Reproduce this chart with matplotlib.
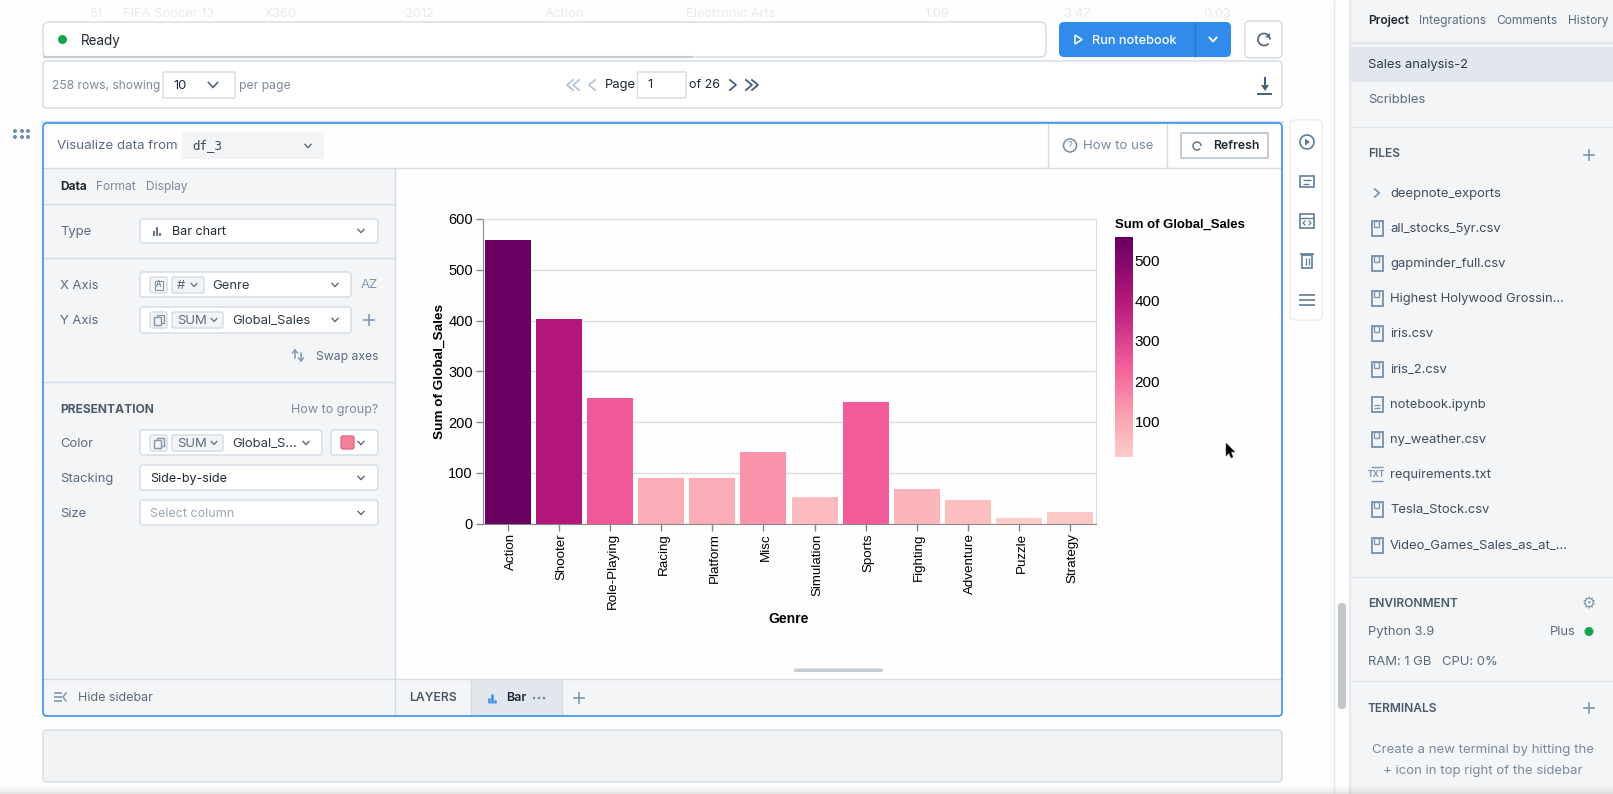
# plot.py
# Notebook screenshot with a sales bar chart: page parts are drawn in pixel coordinates,
# the chart itself is a normal matplotlib axes on top
import matplotlib
matplotlib.use("Agg")
import matplotlib.pyplot as plt
from matplotlib.colors import LinearSegmentedColormap, Normalize
from matplotlib.cm import ScalarMappable
from matplotlib.patches import FancyBboxPatch, Rectangle, Circle, Polygon, Arc
from matplotlib.transforms import ScaledTranslation

# chart values
genres = ["Action", "Shooter", "Role-Playing", "Racing", "Platform", "Misc",
          "Simulation", "Sports", "Fighting", "Adventure", "Puzzle", "Strategy"]
global_sales = [559, 404, 247, 90, 90, 141, 52, 239, 68, 46, 11, 23]
y_ticks = [0, 100, 200, 300, 400, 500, 600]
legend_ticks = [100, 200, 300, 400, 500]

# sidebar lists
file_names = ["all_stocks_5yr.csv", "gapminder_full.csv", "Highest Holywood Grossin...",
              "iris.csv", "iris_2.csv", "notebook.ipynb", "ny_weather.csv",
              "requirements.txt", "Tesla_Stock.csv", "Video_Games_Sales_as_at_..."]
ghost_row = ["51", "FIFA Soccer 13", "X360", "2012", "Action", "Electronic Arts", "1.09", "3.47", "0.03"]

W, H = 1613, 794
UI_FONT = "Inter"
CHART_FONT = "Liberation Sans"
LINE = "#d3dbe5"
DARK = "#1f2933"
MID = "#5b6b7d"
SOFT = "#7a8a9c"
ICON = "#7f97b2"
TOOL = "#5f7d9d"
PANEL = "#f3f5f7"
BLUE = "#3d8fe8"

fig = plt.figure(figsize=(W / 100, H / 100), dpi=100, facecolor="#fefefe")
ui = fig.add_axes([0, 0, 1, 1])
ui.set_xlim(0, W)
ui.set_ylim(H, 0)
ui.axis("off")


def box(x0, y0, x1, y1, fc="white", ec=LINE, r=3, lw=1.0, z=2):
    ui.add_patch(FancyBboxPatch((x0, y0), x1 - x0, y1 - y0, boxstyle=f"round,pad=0,rounding_size={r}",
                                fc=fc, ec=ec, lw=lw, zorder=z))


def rect(x0, y0, x1, y1, fc, z=1):
    ui.add_patch(Rectangle((x0, y0), x1 - x0, y1 - y0, fc=fc, ec="none", zorder=z))


def label(x, y, s, size=13, color=MID, weight="normal", ha="left", family=UI_FONT, z=5):
    # matplotlib centres a bit higher than the browser did
    ui.text(x, y + 1.3, s, fontsize=size * 0.72, color=color, fontweight=weight, ha=ha, va="center",
            family=family, zorder=z)


def hline(x0, x1, y, color=LINE, lw=1.0, z=3):
    ui.plot([x0, x1], [y, y], color=color, lw=lw, zorder=z, solid_capstyle="butt")


def vline(x, y0, y1, color=LINE, lw=1.0, z=3):
    ui.plot([x, x], [y0, y1], color=color, lw=lw, zorder=z, solid_capstyle="butt")


def chevron(x, y, s=3.5, color=MID, lw=1.1):
    ui.plot([x - s, x, x + s], [y - s * 0.55, y + s * 0.55, y - s * 0.55], color=color, lw=lw, zorder=6)


def side_chevron(x, y, d=1, s=5, color=ICON, lw=1.3):
    ui.plot([x - d * s * 0.6, x + d * s * 0.6, x - d * s * 0.6], [y - s, y, y + s], color=color, lw=lw, zorder=6)


def plus(x, y, s=5, color=ICON, lw=1.2):
    ui.plot([x - s, x + s], [y, y], color=color, lw=lw, zorder=6)
    ui.plot([x, x], [y - s, y + s], color=color, lw=lw, zorder=6)


def file_icon(x, y, name, color=ICON):
    if name.endswith(".txt"):
        label(x, y - 1, "TXT", 8.5, color, "bold", ha="center")
        hline(x - 6, x + 6, y - 7, color, 1.0, z=6)
        hline(x - 6, x + 6, y + 7, color, 1.0, z=6)
        return
    ui.add_patch(Rectangle((x - 5.5, y - 7), 11, 14.5, fc="none", ec=color, lw=1.4, zorder=6))
    if name.endswith(".ipynb"):
        hline(x - 3, x + 3, y + 1, color, 1.0, z=6)
        hline(x - 3, x + 3, y + 4, color, 1.0, z=6)
    else:
        ui.add_patch(Rectangle((x - 3, y - 7), 4.5, 6, fc="none", ec=color, lw=1.0, zorder=6))


def tiny_bars(x, y, color=MID, lw=1.3):
    for dx, h in [(-3, 5), (0, 9), (3, 3)]:
        ui.plot([x + dx, x + dx], [y + 4.5, y + 4.5 - h], color=color, lw=lw, zorder=6, solid_capstyle="butt")


def field_tag(x0, x1, y0, y1, s=None):
    box(x0, y0, x1, y1, fc="#f2f4f7", ec=LINE, r=2, z=4)
    if s is not None:
        label(x0 + 5, (y0 + y1) / 2 - 0.5, s, 13, MID)


def stack_icon(x, y):
    ui.add_patch(Rectangle((x - 2, y - 5), 7, 8, fc="none", ec="#8795a5", lw=1.0, zorder=6))
    ui.add_patch(Rectangle((x - 5, y - 3), 7, 8, fc="#f2f4f7", ec="#8795a5", lw=1.0, zorder=6))


# ghost table row behind the status bar
ghost_x = [90, 123, 264, 405, 545, 686, 924, 1063, 1203]
for gx, gs in zip(ghost_x, ghost_row):
    label(gx, 13, gs, 13, "#e8ebee")

# status bar and run button
box(43, 22, 1046, 57, fc="white", ec=LINE, r=6)
hline(43, 693, 56.5, "#c9cdd2", 1.6)
ui.add_patch(Circle((62.5, 39.5), 4.5, fc="#10a64f", ec="none", zorder=5))
label(81, 39.5, "Ready", 13.5, DARK)
box(1059, 22, 1231, 57, fc="#308bea", ec="none", r=5)
vline(1195, 22, 57, "#2a78cc")
ui.add_patch(Polygon([[1075, 35], [1082, 39.5], [1075, 44]], closed=True, fc="none", ec="white", lw=1.1, zorder=6))
label(1092, 39.5, "Run notebook", 12.8, "white", "medium")
chevron(1213, 39.5, 3.5, "white", 1.4)
box(1245, 21, 1282, 58, fc="white", ec=LINE, r=5)
ui.add_patch(Arc((1264, 39.5), 12, 12, theta1=-320, theta2=0, ec=MID, lw=1.3, zorder=6))
ui.add_patch(Polygon([[1270, 33], [1270, 38], [1265, 37]], closed=True, fc=MID, ec="none", zorder=6))

# pagination card
box(43, 61, 1282, 108, fc="white", ec=LINE, r=4, z=1)
label(52, 85, "258 rows, showing", 12.1, SOFT)
box(163, 72, 235, 98, fc="white", ec=LINE, r=1)
label(173, 85, "10", 13, DARK)
chevron(213, 85, 4.5, MID, 1.3)
label(239, 85, "per page", 12.2, SOFT)
side_chevron(570, 85, -1, 5, "#b5c3d3")
side_chevron(576, 85, -1, 5, "#b5c3d3")
side_chevron(592, 85, -1, 5, "#b5c3d3")
label(605, 84, "Page", 13, DARK)
box(637.5, 72, 686, 98, fc="white", ec=LINE, r=1)
label(647, 84, "1", 13, DARK)
label(689, 84, "of 26", 12.5, DARK)
side_chevron(733, 85, 1, 5, "#44607f")
side_chevron(749, 85, 1, 5, "#44607f")
side_chevron(755, 85, 1, 5, "#44607f")
ui.plot([1265, 1265], [78, 88], color="#44607f", lw=1.5, zorder=6)
ui.add_patch(Polygon([[1261, 85], [1269, 85], [1265, 91]], closed=True, fc="#44607f", ec="none", zorder=6))
hline(1257, 1272, 94, "#44607f", 1.4)

# drag handle
for dx in [15, 22, 28]:
    for dy in [131, 137]:
        ui.add_patch(Circle((dx, dy), 2, fc="#6f8db0", ec="none", zorder=5))

# main block
rect(41, 121, 1284, 123, "#cfe4fa")
rect(43, 204, 395, 679, PANEL)
rect(43, 168, 395, 204, PANEL)
rect(43, 679, 1281, 716, PANEL)
rect(470.5, 679, 561.5, 716, "#e2e7ee", z=1.5)
hline(43, 1282, 168)
hline(43, 395, 204)
hline(43, 395, 258)
hline(43, 395, 382)
hline(43, 1282, 679)
vline(395, 168, 716)
vline(470.5, 679, 716)
vline(561.5, 679, 716)
vline(1048, 123, 168)
vline(1167, 123, 168)
box(43, 123, 1282, 716, fc="none", ec=BLUE, r=4, lw=1.2, z=4)

label(57, 145, "Visualize data from", 13.3, MID)
box(182, 132, 324, 159, fc="#f2f4f6", ec="none", r=2)
label(192, 144, "df_3", 12.5, "#3a4754", family="DejaVu Sans Mono")
chevron(308, 146, 3, MID, 1.0)
ui.add_patch(Circle((1070, 145.5), 6.5, fc="none", ec=SOFT, lw=1.1, zorder=6))
label(1070, 144.5, "?", 9.5, SOFT, ha="center")
label(1083, 145, "How to use", 13.2, SOFT)
box(1181, 133, 1268, 158, fc="white", ec="#a9b7c6", r=1)
ui.add_patch(Arc((1197, 146), 8, 8, theta1=-320, theta2=0, ec=MID, lw=1.0, zorder=6))
label(1213, 145, "Refresh", 12.2, DARK, "semibold")

label(60, 186, "Data", 12, DARK, "bold")
label(96, 186, "Format", 12, SOFT)
label(146, 186, "Display", 12, SOFT)

label(60, 230.5, "Type", 13, MID)
box(140, 219, 378, 243)
tiny_bars(157, 231)
label(172, 230.5, "Bar chart", 12.5, DARK)
chevron(361, 231, 3, MID, 1.0)

label(60, 284.5, "X Axis", 13, MID)
box(140, 272, 351, 297)
field_tag(150, 167, 277, 293)
ui.add_patch(Rectangle((154.5, 280.5), 8, 9, fc="none", ec="#8795a5", lw=0.8, zorder=6))
label(158.5, 283.5, "A", 8, MID, ha="center")
field_tag(172, 204, 277, 293, "#")
chevron(194, 285, 2.8, MID, 0.9)
label(212, 284.5, "Genre", 13, "#2e3a46")
chevron(335, 285, 3, MID, 1.0)
label(369, 284, "AZ", 13, ICON, ha="center")

label(60, 319.5, "Y Axis", 13, MID)
box(140, 307, 351, 333)
field_tag(150, 167, 312, 328)
stack_icon(158.5, 320)
field_tag(172, 223, 312, 328, "SUM")
chevron(214, 320, 2.8, MID, 0.9)
label(232, 319.5, "Global_Sales", 13, "#2e3a46")
chevron(335, 320, 3, MID, 1.0)
plus(369, 320, 5)

ui.plot([295, 295], [350, 358], color=ICON, lw=1.1, zorder=6)
ui.plot([292.5, 295, 297.5], [353, 350, 353], color=ICON, lw=1.0, zorder=6)
ui.plot([301, 301], [353, 361], color=ICON, lw=1.1, zorder=6)
ui.plot([298.5, 301, 303.5], [358, 361, 358], color=ICON, lw=1.0, zorder=6)
label(316, 355.5, "Swap axes", 12.2, MID)

label(60, 408.5, "PRESENTATION", 12, "#4a5a6a", "bold")
label(378, 408.5, "How to group?", 12.5, SOFT, ha="right")

label(60, 442.5, "Color", 13, MID)
box(140, 430, 322, 455)
field_tag(150, 167, 435, 451)
stack_icon(158.5, 443)
field_tag(172, 223, 435, 451, "SUM")
chevron(214, 443, 2.8, MID, 0.9)
label(232, 442.5, "Global_S...", 13, "#2e3a46")
chevron(306, 443, 3, MID, 1.0)
box(331, 430, 378, 455)
box(341, 436, 354, 449, fc="#f4809b", ec="#e06c88", r=2, z=5)
chevron(361, 443, 3, MID, 1.0)

label(60, 477.5, "Stacking", 13, MID)
box(140, 465, 378, 490)
label(150, 477.5, "Side-by-side", 12.5, DARK)
chevron(361, 478, 3, MID, 1.0)

label(60, 512.5, "Size", 13, MID)
box(140, 500, 378, 525)
label(150, 512.5, "Select column", 12.5, "#9aa7b5")
chevron(361, 513, 3, MID, 1.0)

# bottom bar of the block
for yy in [693, 697, 701]:
    hline(54, 62, yy, ICON, 1.2, z=6)
ui.plot([66, 63, 66], [693, 697, 701], color=ICON, lw=1.1, zorder=6)
label(78, 696.5, "Hide sidebar", 12.5, MID)
label(409, 697, "LAYERS", 12.2, "#4a5a6a", "semibold")
tiny_bars(492, 698, BLUE, 1.8)
label(506, 697, "Bar", 12.5, DARK, "semibold")
for dx in [534, 539, 544]:
    ui.add_patch(Circle((dx, 698), 1.3, fc=SOFT, ec="none", zorder=6))
plus(579, 698, 5)
ui.add_patch(FancyBboxPatch((794, 668.5), 89, 3.5, boxstyle="round,pad=0,rounding_size=1.7",
                            fc="#c5ccd4", ec="none", zorder=5))

# empty block below
box(43, 730, 1282, 782, fc="#f1f3f5", ec=LINE, r=4)

# side toolbar of the block
box(1290, 120, 1322, 320, fc="white", ec="#e9edf1", r=5)
ui.add_patch(Circle((1307, 142), 7, fc="none", ec=TOOL, lw=1.2, zorder=6))
ui.add_patch(Polygon([[1305, 138.5], [1310, 142], [1305, 145.5]], closed=True, fc=TOOL, ec="none", zorder=6))
ui.add_patch(Rectangle((1300, 176), 14, 11, fc="none", ec=TOOL, lw=1.2, zorder=6))
hline(1303, 1311, 180, TOOL, 1.0, z=6)
hline(1303, 1309, 184, TOOL, 1.0, z=6)
ui.add_patch(Rectangle((1300, 214), 14, 14, fc="none", ec=TOOL, lw=1.2, zorder=6))
hline(1300, 1314, 218, TOOL, 1.0, z=6)
ui.plot([1305, 1303, 1305], [221, 223, 225], color=TOOL, lw=0.9, zorder=6)
ui.plot([1309, 1311, 1309], [221, 223, 225], color=TOOL, lw=0.9, zorder=6)
ui.add_patch(Rectangle((1302, 255), 10, 13, fc="none", ec=TOOL, lw=1.2, zorder=6))
hline(1300, 1314, 254, TOOL, 1.2, z=6)
vline(1305.5, 258, 265, TOOL, 0.9, z=6)
vline(1308.5, 258, 265, TOOL, 0.9, z=6)
for yy in [295, 300, 305]:
    hline(1299, 1315, yy, TOOL, 1.2, z=6)

# scrollbar and right panel
vline(1334, 0, H, "#e6e9ed")
rect(1350, 0, W, H, PANEL)
vline(1350, 0, H, "#e0e4e9", 1.2)
ui.add_patch(FancyBboxPatch((1338, 603), 8, 106, boxstyle="round,pad=0,rounding_size=3.5",
                            fc="#c2c7cc", ec="none", zorder=5))

label(1368, 20, "Project", 12, DARK, "semibold")
label(1419, 20, "Integrations", 12, MID)
label(1496, 20, "Comments", 12, MID)
label(1568, 20, "History", 12, MID)
hline(1351, W, 43, "#dfe4ea", 1.2)
rect(1351, 47, W, 82, "#e2e7ee", z=1.5)
label(1368, 63.5, "Sales analysis-2", 13, "#2e3a46")
label(1368, 98.5, "Scribbles", 13, MID)
hline(1351, W, 127, "#dfe4ea")
label(1368, 153, "FILES", 12, "#4a5a6a", "semibold")
plus(1589, 155, 5)
side_chevron(1377, 193, 1, 4)
label(1390, 192.5, "deepnote_exports", 13, "#3f4e5d")

file_y = [228, 263, 298, 333, 369, 404, 439, 474, 509, 545]
for fy, fname in zip(file_y, file_names):
    file_icon(1377, fy, fname)
    label(1390, fy - 0.5, fname, 13, "#3f4e5d")

hline(1351, W, 577, "#dfe4ea")
label(1368, 602.5, "ENVIRONMENT", 12, "#4a5a6a", "semibold")
label(1589, 603, "⚙", 16, ICON, ha="center", family="DejaVu Sans")
label(1368, 630.5, "Python 3.9", 13, MID)
label(1576, 630.5, "Plus", 13, MID, ha="right")
ui.add_patch(Circle((1589, 631.5), 4.5, fc="#10a64f", ec="none", zorder=5))
label(1368, 660.5, "RAM: 1 GB", 13, MID)
label(1442, 660.5, "CPU: 0%", 13, MID)
hline(1351, W, 681, "#dfe4ea")
label(1368, 707.5, "TERMINALS", 12, "#4a5a6a", "semibold")
plus(1589, 708, 5)
label(1483, 749, "Create a new terminal by hitting the", 13.2, SOFT, ha="center")
label(1483, 770, "+ icon in top right of the sidebar", 13.2, SOFT, ha="center")

# soft fade along the bottom edge
for i, alpha in enumerate([0.02, 0.04, 0.06, 0.09, 0.12, 0.15, 0.18, 0.22]):
    rect(0, 786 + i, W, 787 + i, (0.55, 0.55, 0.55, alpha), z=7)

# mouse pointer
ui.add_patch(Polygon([[1226, 443], [1226, 456], [1229, 453], [1231, 458], [1233, 457], [1231, 452], [1235, 452]],
                     closed=True, fc="black", ec="#555555", lw=0.4, zorder=8))

# the chart
sales_cmap = LinearSegmentedColormap.from_list(
    "sales", [(0, "#fcccc8"), (0.144, "#fbabb6"), (0.237, "#f993ab"), (0.417, "#f25c99"),
              (0.71, "#b5177b"), (1, "#67005f")])
norm = Normalize(vmin=min(global_sales), vmax=max(global_sales))

ax = fig.add_axes([482.5 / W, 1 - 523.6 / H, 613 / W, 304.6 / H])
ax.set_facecolor("none")
ax.bar(range(len(genres)), global_sales, width=0.9, color=sales_cmap(norm(global_sales)), zorder=3)
ax.set_xlim(-0.5, 11.5)
ax.set_ylim(0, 600)
ax.set_yticks(y_ticks)
ax.set_xticks(range(len(genres)))
ax.set_xticklabels(genres, rotation=90, fontsize=9.6, family=CHART_FONT, color="black")
ax.set_yticklabels(y_ticks, fontsize=10.5, family=CHART_FONT, color="black")
ax.tick_params(axis="both", length=5, width=1, color="#888888", pad=2)
# rotated labels sit a little left of their ticks, nudge them back
# (has to come after tick_params, which resets the label transform)
for tick_text in ax.get_xticklabels():
    tick_text.set_transform(tick_text.get_transform() + ScaledTranslation(2.5 / 100, 0, fig.dpi_scale_trans))
ax.grid(axis="y", color="#dddddd", lw=1, zorder=0)
for side in ["top", "right"]:
    ax.spines[side].set_color("#dddddd")
for side in ["left", "bottom"]:
    ax.spines[side].set_color("#888888")
ax.set_xlabel("Genre", fontsize=10, fontweight="bold", family=CHART_FONT, labelpad=2)
ax.set_ylabel("Sum of Global_Sales", fontsize=9.7, fontweight="bold", family=CHART_FONT, labelpad=2)

# colour legend
cax = fig.add_axes([1115 / W, 1 - 457 / H, 18 / W, 220 / H])
cbar = fig.colorbar(ScalarMappable(norm=norm, cmap=sales_cmap), cax=cax)
cbar.set_ticks(legend_ticks)
cbar.ax.tick_params(length=0, pad=1, labelsize=11)
cbar.ax.set_yticklabels(legend_ticks, family=CHART_FONT)
cbar.outline.set_visible(False)
ui.text(1115, 225, "Sum of Global_Sales", fontsize=9.45, color="black", fontweight="bold", ha="left", va="center",
        family=CHART_FONT, zorder=5)

fig.savefig("out.png", dpi=100)
